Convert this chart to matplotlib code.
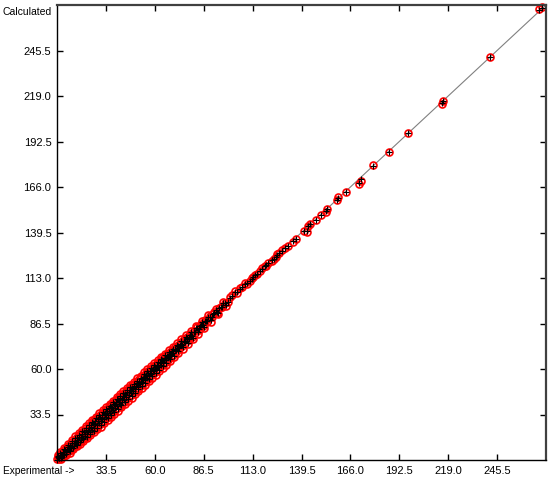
import numpy as np
import matplotlib.pyplot as plt

plt.rcParams['font.family'] = ['Liberation Sans', 'DejaVu Sans']

# Experimental values and the two sets of calculated values
experimental = [
    7.0, 7.6, 8.2, 9.0, 9.5, 10.3, 11.0, 11.4, 12.1, 12.9, 13.5, 14.2, 14.8, 15.3,
    16.0, 16.7, 17.2, 17.9, 18.5, 19.1, 19.8, 20.4, 21.0, 21.6, 22.3, 22.9, 23.4,
    24.1, 24.8, 25.3, 25.9, 26.6, 27.2, 27.8, 28.5, 29.0, 29.7, 30.3, 30.9, 31.5,
    32.2, 32.8, 33.4, 34.0, 34.7, 35.3, 35.8, 36.5, 37.1, 37.8, 38.3, 39.0, 39.6,
    40.2, 40.9, 41.4, 42.1, 42.7, 43.3, 43.9, 44.6, 45.2, 45.8, 46.4, 47.1, 47.7,
    48.2, 48.9, 49.5, 50.1, 50.8, 51.3, 52.0, 52.6, 53.2, 53.9, 54.5, 55.0, 55.7,
    56.3, 57.0, 57.6, 58.2, 58.8, 59.5, 60.1, 60.8, 61.4, 62.0, 62.7, 63.3, 64.0,
    64.6, 65.3, 65.9, 66.6, 67.2, 68.0, 68.7, 69.4, 70.1, 70.9, 71.6, 72.4, 73.2,
    74.0, 74.8, 75.7, 76.5, 77.4, 78.3, 79.2, 80.1, 81.0, 82.0, 83.0, 84.0, 85.1,
    86.2, 87.3, 88.5, 89.7, 91.0, 92.3, 93.6, 95.0, 96.5, 98.0, 99.5,
    7.3, 8.0, 8.7, 9.3, 10.0, 10.7, 11.7, 12.4, 13.2, 13.9, 14.5, 15.1, 15.7, 16.4,
    17.0, 17.6, 18.2, 18.8, 19.5, 20.1, 20.7, 21.3, 22.0, 22.6, 23.2, 23.8, 24.4,
    25.0, 25.6, 26.2, 26.9, 27.5, 28.1, 28.8, 29.4, 30.0, 30.6, 31.2, 31.9, 32.5,
    33.1, 33.7, 34.4, 35.0, 35.6, 36.2, 36.8, 37.4, 38.0, 38.7, 39.3, 39.9, 40.5,
    41.1, 41.8, 42.4, 43.0, 43.6, 44.2, 44.9, 45.5, 46.1, 46.7, 47.4, 48.0, 48.6,
    49.2, 49.8, 50.5, 51.1, 51.7, 52.3, 52.9, 53.6, 54.2, 54.8, 55.4, 56.0, 56.7,
    57.3, 57.9, 58.5, 59.2, 59.8, 60.4, 61.1, 61.7, 62.3, 63.0, 63.6, 64.3, 65.0,
    65.6, 66.3, 66.9, 67.6, 68.3, 69.0, 69.7, 70.5, 71.2, 72.0, 72.8, 73.6, 74.4,
    75.2, 76.1, 76.9, 77.8, 78.7, 79.6, 80.5, 81.5, 82.5, 83.5, 84.5, 85.6, 86.7,
    87.9, 89.1, 90.4, 91.6, 92.9, 94.3, 95.7, 97.2, 98.8, 100.5,
    101.9, 103.5, 104.8, 106.0, 107.3, 108.9, 110.2, 111.6, 112.5, 113.2, 114.3,
    115.4, 117.0, 118.2, 119.7, 120.5, 121.4, 123.5, 124.6, 125.7, 126.4, 127.3,
    128.9, 130.6, 132.2, 134.9, 136.5, 140.9, 142.5, 143.0, 144.1, 147.4, 150.1,
    152.8, 153.3, 158.8, 159.3, 163.6, 170.7, 171.8, 178.3, 187.0, 197.2, 215.8,
    216.4, 241.7, 268.0, 270.0,
]

calc_red = [
    7.4, 8.9, 7.9, 10.8, 8.6, 12.1, 9.6, 13.2, 11.0, 15.1, 12.2, 16.0, 13.1, 17.4,
    14.6, 18.9, 15.5, 20.3, 16.8, 21.4, 18.0, 23.1, 19.2, 24.0, 20.1, 25.6, 21.5,
    26.8, 22.6, 28.1, 23.7, 29.5, 24.9, 30.6, 26.1, 32.0, 27.4, 33.2, 28.6, 34.3,
    29.8, 35.9, 31.2, 36.8, 32.3, 38.2, 33.4, 39.3, 34.8, 40.6, 36.0, 41.9, 37.2,
    43.0, 38.5, 44.1, 39.8, 45.5, 41.0, 46.6, 42.3, 47.9, 43.6, 49.0, 44.9, 50.4,
    46.1, 51.5, 47.3, 52.8, 48.6, 53.9, 49.9, 55.2, 51.1, 56.4, 52.4, 57.6, 53.7,
    58.8, 55.1, 60.0, 56.3, 61.2, 57.6, 62.4, 58.9, 63.7, 60.2, 64.9, 61.5, 66.2,
    62.9, 67.4, 64.2, 68.7, 65.5, 70.0, 67.0, 71.2, 68.4, 72.8, 70.0, 74.2, 71.6,
    75.7, 73.3, 77.3, 75.1, 78.9, 77.0, 80.6, 78.9, 82.3, 80.8, 84.2, 82.9, 86.2,
    85.1, 88.3, 87.4, 90.6, 90.0, 93.2, 92.9, 95.8, 95.9, 98.7, 98.9,
    9.8, 7.5, 11.9, 7.8, 10.6, 14.0, 9.9, 13.0, 16.5, 11.3, 14.9, 18.6, 13.2, 17.0,
    20.8, 14.9, 18.9, 22.9, 16.4, 20.5, 24.6, 18.1, 22.8, 26.8, 19.7, 24.4, 28.5,
    21.4, 26.3, 30.4, 23.1, 28.0, 32.3, 24.8, 30.2, 34.1, 26.5, 32.1, 36.2, 28.3,
    34.0, 38.0, 30.2, 35.9, 39.8, 32.0, 37.6, 41.6, 33.9, 39.6, 43.5, 35.8, 41.4,
    45.2, 37.7, 43.1, 47.1, 39.5, 45.0, 48.9, 41.4, 46.9, 50.8, 43.3, 48.8, 52.6,
    45.2, 50.6, 54.5, 47.1, 52.5, 56.2, 49.0, 54.3, 58.1, 50.9, 56.2, 59.9, 52.8,
    58.1, 61.7, 54.7, 60.0, 63.5, 56.7, 61.9, 65.4, 58.6, 63.8, 67.2, 60.6, 65.7,
    69.0, 62.6, 67.6, 70.9, 64.7, 69.6, 72.8, 66.9, 71.8, 74.9, 69.4, 74.3, 77.2,
    71.9, 76.8, 79.6, 74.6, 79.3, 82.2, 77.4, 82.1, 85.0, 80.5, 85.1, 87.9, 83.8,
    88.5, 91.2, 87.6, 92.1, 94.9, 91.9, 96.2, 99.2, 96.7, 101.9,
    103.0, 105.4, 104.2, 106.9, 107.7, 110.0, 109.4, 111.2, 112.9, 113.5, 114.9,
    115.3, 117.0, 118.6, 119.9, 120.1, 121.7, 122.8, 124.0, 125.1, 126.9, 127.5,
    129.2, 130.4, 131.5, 133.9, 135.6, 140.3, 139.7, 143.2, 144.4, 146.7, 149.6,
    151.3, 153.0, 158.3, 160.0, 163.0, 167.6, 169.4, 178.7, 186.3, 197.3, 214.6,
    216.2, 242.0, 269.8, 270.6,
]

calc_black = [
    7.2, 8.5, 8.3, 10.2, 9.0, 11.6, 10.1, 12.7, 11.5, 14.4, 12.8, 15.3, 13.9, 16.8,
    15.2, 18.1, 16.3, 19.6, 17.5, 20.6, 18.9, 22.2, 20.0, 23.3, 21.0, 24.7, 22.4,
    25.9, 23.5, 27.2, 24.6, 28.4, 25.8, 29.7, 27.2, 30.8, 28.5, 32.1, 29.7, 33.4,
    30.9, 34.6, 32.3, 35.7, 33.5, 37.0, 34.6, 38.1, 35.9, 39.4, 37.1, 40.6, 38.4,
    41.8, 39.7, 43.0, 40.9, 44.3, 42.2, 45.4, 43.5, 46.6, 44.7, 47.8, 46.0, 49.2,
    47.2, 50.3, 48.5, 51.6, 49.8, 52.7, 51.0, 54.0, 52.2, 55.3, 53.5, 56.4, 54.7,
    57.6, 56.0, 58.9, 57.3, 60.1, 58.6, 61.3, 59.9, 62.6, 61.2, 63.8, 62.5, 65.1,
    63.8, 66.3, 65.1, 67.6, 66.4, 69.0, 67.9, 70.3, 69.2, 71.8, 70.8, 73.3, 72.4,
    74.8, 74.0, 76.5, 75.8, 78.1, 77.7, 79.9, 79.5, 81.6, 81.4, 83.6, 83.4, 85.6,
    85.7, 87.8, 88.0, 90.1, 90.5, 92.7, 93.3, 95.3, 96.2, 98.3, 99.2,
    9.2, 7.9, 11.0, 8.3, 10.4, 13.2, 10.5, 12.8, 15.7, 12.0, 14.7, 17.8, 14.0, 16.8,
    19.9, 15.7, 18.6, 21.8, 17.3, 20.3, 23.6, 19.0, 22.4, 25.8, 20.6, 24.1, 27.5,
    22.3, 26.0, 29.3, 24.1, 27.8, 31.2, 25.8, 29.9, 33.1, 27.6, 31.7, 35.0, 29.4,
    33.6, 36.8, 31.3, 35.5, 38.6, 33.1, 37.3, 40.5, 35.0, 39.2, 42.3, 36.9, 41.0,
    44.0, 38.8, 42.8, 45.9, 40.6, 44.7, 47.8, 42.5, 46.5, 49.6, 44.4, 48.4, 51.4,
    46.3, 50.2, 53.3, 48.2, 52.1, 55.0, 50.1, 54.0, 56.9, 52.0, 55.8, 58.8, 53.9,
    57.7, 60.6, 55.8, 59.6, 62.4, 57.7, 61.5, 64.2, 59.6, 63.4, 66.1, 61.6, 65.3,
    67.9, 63.6, 67.2, 69.8, 65.6, 69.2, 71.7, 67.8, 71.4, 73.9, 70.3, 73.9, 76.2,
    72.8, 76.4, 78.7, 75.4, 78.9, 81.3, 78.2, 81.8, 84.1, 81.3, 84.8, 87.1, 84.6,
    88.2, 90.5, 88.3, 91.8, 94.2, 92.6, 96.0, 98.6, 97.3, 101.4,
    102.6, 104.8, 104.6, 106.4, 107.5, 109.6, 109.8, 111.5, 112.7, 113.3, 114.6,
    115.5, 117.1, 118.4, 119.8, 120.4, 121.5, 123.2, 124.3, 125.5, 126.6, 127.4,
    129.0, 130.5, 131.9, 134.3, 136.0, 140.6, 140.2, 143.1, 144.2, 147.0, 149.8,
    152.0, 153.1, 158.5, 159.6, 163.3, 168.4, 170.4, 178.5, 186.6, 197.2, 215.2,
    216.3, 241.8, 268.9, 270.3,
]

axis_min, axis_max = 7.0, 272.0
tick_values = [33.5, 60.0, 86.5, 113.0, 139.5, 166.0, 192.5, 219.0, 245.5]

fig = plt.figure(figsize=(5.5, 4.82), dpi=100)
ax = fig.add_axes([57 / 550, 22 / 482, 489 / 550, 455 / 482])

ax.plot([axis_min, axis_max], [axis_min, axis_max], color='#808080', lw=0.8, zorder=1)
ax.plot(experimental, calc_red, 'o', mfc='none', mec='red', ms=5, mew=1.2,
        zorder=2, clip_on=False)
ax.plot(experimental, calc_black, '+', color='black', ms=4, mew=0.8, zorder=3,
        clip_on=False)

ax.set_xlim(axis_min, axis_max)
ax.set_ylim(axis_min, axis_max)
ax.set_xticks(tick_values)
ax.set_yticks(tick_values)
ax.set_xticklabels([f'{v:.1f}' for v in tick_values])
ax.set_yticklabels([f'{v:.1f}' for v in tick_values])
ax.tick_params(direction='in', length=4, width=1, labelsize=8, pad=4,
               top=True, right=True, colors='black')

for side in ['left', 'bottom']:
    ax.spines[side].set_linewidth(1.0)
for side in ['top', 'right']:
    ax.spines[side].set_linewidth(1.6)
    ax.spines[side].set_color('#404040')

fig.text(52 / 550, 1 - 12 / 482, 'Calculated', ha='right', va='center', fontsize=7.5)
fig.text(3 / 550, 1 - 471 / 482, 'Experimental ->', ha='left', va='center', fontsize=7.3)

fig.savefig('out.png', dpi=100)
